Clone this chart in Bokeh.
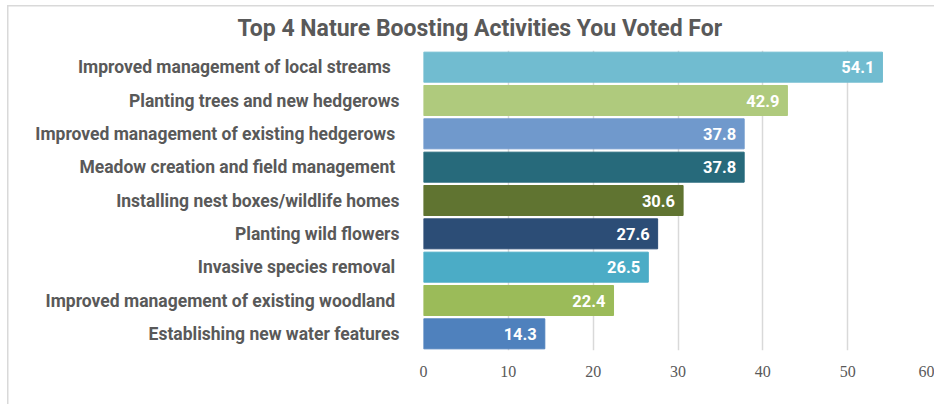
from bokeh.plotting import figure
from bokeh.models import ColumnDataSource, FactorRange, Range1d, LabelSet, FixedTicker
from bokeh.core.properties import value
from bokeh.embed import file_html
from bokeh.resources import INLINE

categories = [
    "Improved management  of local streams ",
    "Planting trees and new hedgerows",
    "Improved management  of existing hedgerows",
    "Meadow creation and field management ",
    "Installing nest boxes/wildlife homes",
    "Planting wild flowers",
    "Invasive species removal ",
    "Improved management  of existing woodland",
    "Establishing new water features",
]
values = [54.1, 42.9, 37.8, 37.8, 30.6, 27.6, 26.5, 22.4, 14.3]
bar_colors = ["#71BCD0", "#AFCA7D", "#7099CC", "#276A7B", "#607431",
              "#2C4D76", "#4BACC6", "#9BBB59", "#4F81BD"]
x_ticks = [0, 10, 20, 30, 40, 50, 60]
title_text = "Top 4 Nature Boosting Activities You Voted For"

FONT = "Roboto"

src = ColumnDataSource(dict(cat=categories, val=values, color=bar_colors,
                            lab=[f"{v:.1f}" for v in values]))

p = figure(width=934, height=404, output_backend="svg", toolbar_location=None,
           y_range=FactorRange(*reversed(categories)), x_range=Range1d(0, 60),
           title=title_text)
p.min_border_left = 423
p.min_border_right = 2
p.min_border_top = 50
p.min_border_bottom = 54
p.outline_line_color = None
p.border_fill_color = None
p.background_fill_color = None
p.styles = {
    "background": "linear-gradient(#D9D9D9,#D9D9D9) 7px 5px / 1.5px 100% no-repeat, "
                  "linear-gradient(#D9D9D9,#D9D9D9) 7px 5px / 100% 1.5px no-repeat, white"
}

p.title.align = "left"
p.title.offset = -186
p.title.standoff = 18
p.title.text_font = FONT
p.title.text_font_size = "23px"
p.title.text_font_style = "bold"
p.title.text_color = "#595959"

p.hbar(y="cat", right="val", left=0, height=0.9, color="color", source=src)

labels = LabelSet(x="val", y="cat", text="lab", source=src, x_offset=-8,
                  text_align="right", text_baseline="middle", text_color="white",
                  text_font_size="16.5px", text_font_style="bold",
                  text_font=value(FONT))
p.add_layout(labels)

p.xaxis.ticker = FixedTicker(ticks=x_ticks)
p.xaxis.axis_line_color = None
p.xaxis.major_tick_line_color = None
p.xaxis.minor_tick_line_color = None
p.xaxis.major_label_text_font = "Liberation Serif"
p.xaxis.major_label_text_font_size = "16px"
p.xaxis.major_label_text_color = "#595959"
p.xaxis.major_label_standoff = 9

p.yaxis.axis_line_color = None
p.yaxis.major_tick_line_color = None
p.yaxis.minor_tick_line_color = None
p.yaxis.major_label_text_font = FONT
p.yaxis.major_label_text_font_size = "17.5px"
p.yaxis.major_label_text_font_style = "bold"
p.yaxis.major_label_text_color = "#595959"
p.yaxis.major_label_standoff = 18

p.xgrid.grid_line_color = "#D9D9D9"
p.xgrid.grid_line_width = 1.5
p.ygrid.grid_line_color = None

open("out.html", "w").write(file_html(p, INLINE))
